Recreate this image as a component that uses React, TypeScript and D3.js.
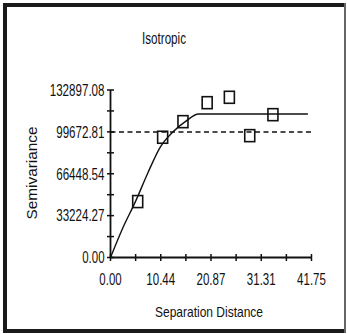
import React, { useRef, useEffect } from 'react';
import * as d3 from 'd3';

// lag distances and semivariance of the experimental points
const lagDistance = [5.65, 10.83, 15.05, 20.08, 24.69, 28.92, 33.74];
const semivariance = [44378, 95414, 107776, 122833, 127112, 96681, 113323];

// fitted model
const modelDistance = [0, 2.6, 5.2, 7.8, 10.4, 13.0, 15.6, 18.3, 41.0];
const modelValue = [0, 23800, 44500, 67500, 88000, 99800, 108000, 113900, 113900];

const sampleVariance = 99672.81;

const xTickLabels = ['0.00', '10.44', '20.87', '31.31', '41.75'];
const yTickLabels = ['0.00', '33224.27', '66448.54', '99672.81', '132897.08'];

const font = '"Liberation Sans", Arial, sans-serif';

// the original uses a narrow face, so squeeze the numbers to its width
const numWidth = (s: string) => s.replace(/[^0-9]/g, '').length * 6.5 + (s.includes('.') ? 2.8 : 0);

const Variogram = ({ width = 347, height = 334 }) => {
  const svgRef = useRef(null);

  useEffect(() => {
    const svg = d3.select(svgRef.current);
    svg.selectAll('*').remove();

    svg.append('rect')
      .attr('width', width)
      .attr('height', height)
      .attr('fill', '#fff');

    // frame
    const frame = svg.append('g').attr('stroke', '#1a1a1a');
    frame.append('line').attr('x1', 5).attr('x2', 5).attr('y1', 3).attr('y2', 333).attr('stroke-width', 4);
    frame.append('line').attr('x1', 3).attr('x2', 346).attr('y1', 5).attr('y2', 5).attr('stroke-width', 4);
    frame.append('line').attr('x1', 3).attr('x2', 346).attr('y1', 331).attr('y2', 331).attr('stroke-width', 4);
    frame.append('line').attr('x1', 345).attr('x2', 345).attr('y1', 3).attr('y2', 333).attr('stroke-width', 2).attr('stroke', '#666');

    const xMax = +xTickLabels[xTickLabels.length - 1];
    const yMax = +yTickLabels[yTickLabels.length - 1];

    const x = d3.scaleLinear().domain([0, xMax]).range([110.5, 311.5]);
    const y = d3.scaleLinear().domain([0, yMax]).range([257.5, 90]);

    const xMajor = xTickLabels.map(Number);
    const yMajor = yTickLabels.map(Number);
    // ticks every half step along the axes
    const xAll = d3.range(9).map(i => i * xMax / 8);
    const yAll = d3.range(9).map(i => i * yMax / 8);

    const axisColor = '#111';

    // x axis
    const gx = svg.append('g').attr('transform', `translate(0,${y(0)})`);
    gx.append('line').attr('x1', x(0)).attr('x2', x(xMax)).attr('stroke', axisColor).attr('stroke-width', 1.8);
    gx.selectAll('line.tick').data(xAll).join('line')
      .attr('class', 'tick')
      .attr('x1', d => x(d)).attr('x2', d => x(d))
      .attr('y1', -3.5).attr('y2', 3.5)
      .attr('stroke', axisColor).attr('stroke-width', 1.5);
    gx.selectAll('text').data(xMajor).join('text')
      .attr('x', d => x(d))
      .attr('y', 27)
      .attr('text-anchor', 'middle')
      .attr('font-family', font)
      .attr('font-size', 16)
      .attr('textLength', (d, i) => numWidth(xTickLabels[i]))
      .attr('lengthAdjust', 'spacingAndGlyphs')
      .attr('fill', '#111')
      .text((d, i) => xTickLabels[i]);

    // y axis
    const gy = svg.append('g').attr('transform', `translate(${x(0)},0)`);
    gy.append('line').attr('y1', y(0)).attr('y2', y(yMax)).attr('stroke', axisColor).attr('stroke-width', 1.8);
    gy.selectAll('line.tick').data(yAll).join('line')
      .attr('class', 'tick')
      .attr('y1', d => y(d)).attr('y2', d => y(d))
      .attr('x1', -3.5).attr('x2', 3.5)
      .attr('stroke', axisColor).attr('stroke-width', 1.5);
    gy.selectAll('text').data(yMajor).join('text')
      .attr('x', -6)
      .attr('y', d => y(d))
      .attr('dy', '0.36em')
      .attr('text-anchor', 'end')
      .attr('font-family', font)
      .attr('font-size', 16)
      .attr('textLength', (d, i) => numWidth(yTickLabels[i]))
      .attr('lengthAdjust', 'spacingAndGlyphs')
      .attr('fill', '#111')
      .text((d, i) => yTickLabels[i]);

    // sample variance
    svg.append('line')
      .attr('x1', x(0)).attr('x2', x(xMax))
      .attr('y1', y(sampleVariance)).attr('y2', y(sampleVariance))
      .attr('stroke', '#111')
      .attr('stroke-width', 1.5)
      .attr('stroke-dasharray', '5,3.5');

    // model
    const line = d3.line()
      .x((d, i) => x(modelDistance[i]))
      .y(d => y(d))
      .curve(d3.curveMonotoneX);
    svg.append('path')
      .datum(modelValue)
      .attr('fill', 'none')
      .attr('stroke', '#111')
      .attr('stroke-width', 1.4)
      .attr('d', line);

    // experimental points
    svg.selectAll('rect.pt').data(semivariance).join('rect')
      .attr('class', 'pt')
      .attr('x', (d, i) => x(lagDistance[i]) - 5)
      .attr('y', d => y(d) - 6)
      .attr('width', 10)
      .attr('height', 12)
      .attr('fill', 'none')
      .attr('stroke', '#111')
      .attr('stroke-width', 1.6);

    // titles
    svg.append('text')
      .attr('x', 164).attr('y', 44)
      .attr('text-anchor', 'middle')
      .attr('font-family', font)
      .attr('font-size', 16)
      .attr('textLength', 44)
      .attr('lengthAdjust', 'spacingAndGlyphs')
      .attr('fill', '#111')
      .text('Isotropic');

    svg.append('text')
      .attr('x', 209).attr('y', 317)
      .attr('text-anchor', 'middle')
      .attr('font-family', font)
      .attr('font-size', 15)
      .attr('textLength', 108)
      .attr('lengthAdjust', 'spacingAndGlyphs')
      .attr('fill', '#111')
      .text('Separation Distance');

    svg.append('text')
      .attr('transform', `translate(37,173) rotate(-90)`)
      .attr('text-anchor', 'middle')
      .attr('font-family', font)
      .attr('font-size', 15)
      .attr('textLength', 93)
      .attr('lengthAdjust', 'spacingAndGlyphs')
      .attr('fill', '#111')
      .text('Semivariance');
  }, [width, height]);

  return <svg ref={svgRef} width={width} height={height} style={{ position: 'absolute', left: 0, top: 0 }}></svg>;
};

export default function App() {
  return <Variogram />;
}
